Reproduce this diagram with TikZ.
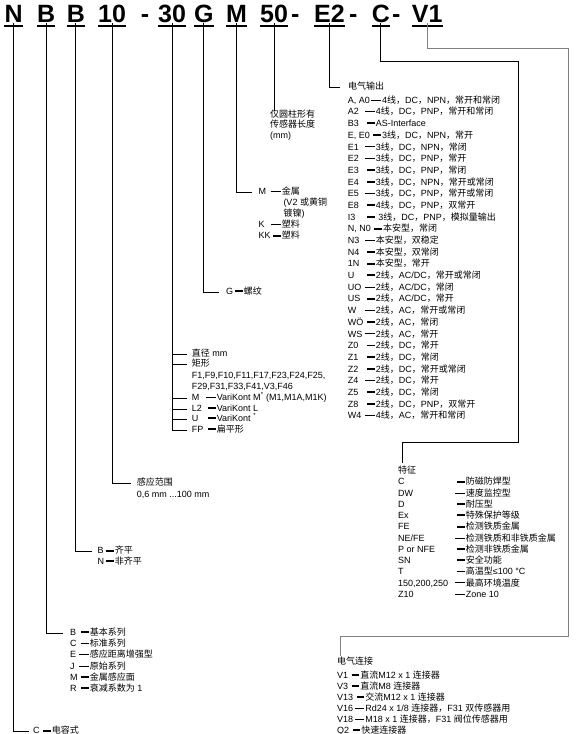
\documentclass[tikz,border=0pt]{standalone}
\usepackage{fontspec}
\setmainfont{Liberation Sans}
\newfontfamily\zhfont{Noto Sans CJK SC}
\newfontfamily\lafont{Liberation Sans}
\usetikzlibrary{calc}
% Chinese characters are set in the CJK font
\XeTeXinterchartokenstate=1
\chardef\zhclass=7
\newcount\zhc
\zhc="3000 \loop\XeTeXcharclass\zhc=\zhclass \advance\zhc by 1 \ifnum\zhc<"3040 \repeat
\zhc="4E00 \loop\XeTeXcharclass\zhc=\zhclass \advance\zhc by 1 \ifnum\zhc<"A000 \repeat
\zhc="FF00 \loop\XeTeXcharclass\zhc=\zhclass \advance\zhc by 1 \ifnum\zhc<"FFF0 \repeat
\XeTeXinterchartoks 0 \zhclass={\zhfont}
\XeTeXinterchartoks 4095 \zhclass={\zhfont}
\XeTeXinterchartoks \zhclass 0={\lafont}
\XeTeXinterchartoks \zhclass 4095={\lafont}
% thin and thick dashes
\newcommand\tn{\rule[2.8pt]{9.5pt}{0.8pt}\hspace{1.2pt}}
\newcommand\tk{\hspace{2pt}\rule[2.3pt]{7.5pt}{1.9pt}\hspace{1.2pt}}

\begin{document}
\begin{tikzpicture}[x=1pt, y=-1pt,
  hd/.style={font=\fontsize{25}{25}\selectfont\bfseries, inner sep=0pt, text depth=0pt, anchor=base west},
  lbl/.style={font=\fontsize{9}{11}\selectfont, inner sep=0pt, text height=6.5pt, text depth=2pt, anchor=west},
  ul/.style={line width=2pt},
  wire/.style={line width=0.9pt},
  gwire/.style={line width=1pt, black!50}]
  \useasboundingbox (0,0) rectangle (580,734);
  \clip (0,0) rectangle (580,734);

  % type code
  \node[hd] (tN) at (4.4,22.7) {N};
  \node[hd] (tB1) at (37,22.7) {B};
  \node[hd] (tB2) at (66.6,22.7) {B};
  \node[hd] (t10) at (98,22.7) {10};
  \node[hd] (d1) at (140.6,22.7) {-};
  \node[hd] (t30) at (158,22.7) {30};
  \node[hd] (tG) at (194,22.7) {G};
  \node[hd] (tM) at (226,22.7) {M};
  \node[hd] (t50) at (260,22.7) {50};
  \node[hd] (d2) at (291,22.7) {-};
  \node[hd] (tE2) at (314,22.7) {E2};
  \node[hd] (d3) at (349,22.7) {-};
  \node[hd] (tC) at (371.7,22.7) {C};
  \node[hd] (d4) at (392,22.7) {-};
  \node[hd] (tV1) at (411.7,22.7) {V1};
  \foreach \n in {tN,tB1,tB2,t10,t30,tG,tM,t50,tE2,tC,tV1}
    \draw[ul] ([yshift=-3.3pt]\n.south west) -- ([yshift=-3.3pt]\n.south east);

  % length
  \node[lbl] (len1) at (270,115) {仅圆柱形有};
  \node[lbl] (len2) at (270,125.7) {传感器长度};
  \node[lbl] (len3) at (270,136.7) {(mm)};
  \draw[wire] (t50.south) -- (t50.south |- len1.north);

  % material
  \node[lbl] (m1) at (258.3,192.7) {M};
  \node[lbl] (m1d) at (271,192.7) {\tn 金属};
  \node[lbl] (m2) at (283.3,203.3) {(V2 或黄铜};
  \node[lbl] (m3) at (283.3,214.3) {镀镍)};
  \node[lbl] (k1) at (258.3,225.7) {K};
  \node[lbl] (k1d) at (271,225.7) {\tn 塑料};
  \node[lbl] (k2) at (258.3,236.7) {KK};
  \node[lbl] (k2d) at (271,236.7) {\tk 塑料};
  \draw[wire] (tM.south) |- ([xshift=-6.6pt]m1.west);

  % thread
  \node[lbl] (g1) at (226,292.3) {G};
  \node[lbl] (g1d) at (233,292.3) {\tk 螺纹};
  \draw[wire] (tG.south) |- ([xshift=-7pt]g1.west);

  % housing
  \node[lbl] (h1) at (191.7,354) {直径 mm};
  \node[lbl] (h2) at (191.7,364.3) {矩形};
  \node[lbl] (h3) at (191.7,376.7) {F1,F9,F10,F11,F17,F23,F24,F25,};
  \node[lbl] (h4) at (191.7,387.3) {F29,F31,F33,F41,V3,F46};
  \node[lbl] (hM) at (191.7,398.3) {M};
  \node[lbl] (hMd) at (206,398.3) {\tn VariKont M\textsuperscript{*} (M1,M1A,M1K)};
  \node[lbl] (hL) at (191.7,409.3) {L2};
  \node[lbl] (hLd) at (206,409.3) {\tk VariKont L};
  \node[lbl] (hU) at (191.7,419.3) {U};
  \node[lbl] (hUd) at (206,419.3) {\tk VariKont \textsuperscript{*}};
  \node[lbl] (hF) at (191.7,430) {FP};
  \node[lbl] (hFd) at (206,430) {\tk 扁平形};
  \draw[wire] (t30.south) |- ([xshift=-4.4pt]hF.west);
  \foreach \n in {h1,h2,hM,hL,hU}
    \draw[wire] (t30.south |- \n.west) -- ([xshift=-4.4pt]\n.west);

  % range
  \node[lbl] (r1) at (136.7,483.3) {感应范围};
  \node[lbl] (r2) at (136.7,495) {0,6 mm ...100 mm};
  \draw[wire] (t10.south) |- ([xshift=-6pt]r1.west);

  % flush
  \foreach \c/\d [count=\i] in {B/\tk 齐平, N/\tk 非齐平}{
    \node[lbl] (p\i) at (97.3,{551.7+10.7*(\i-1)}) {\c};
    \node[lbl] (pd\i) at (104,{551.7+10.7*(\i-1)}) {\d};
  }
  \draw[wire] (tB2.south) |- ([xshift=-5.6pt]p1.west);

  % series
  \foreach \c/\d [count=\i] in {B/\tk 基本系列, C/\tk 标准系列, E/\tn 感应距离增强型,
      J/\tn 原始系列, M/\tk 金属感应面, R/\tk 衰减系数为 1}{
    \node[lbl] (b\i) at (70,{633.3+11.2*(\i-1)}) {\c};
    \node[lbl] (bd\i) at (79,{633.3+11.2*(\i-1)}) {\d};
  }
  \draw[wire] (tB1.south) |- ([xshift=-7.3pt]b1.west);

  % sensor type
  \node[lbl] (c1) at (33,731.7) {C};
  \node[lbl] (cd1) at (41,731.7) {\tk 电容式};
  \draw[wire] (tN.south) |- ([xshift=-4pt]c1.west);

  % electrical output
  \node[lbl] (o0) at (348,87.3) {电气输出};
  \foreach \c/\d [count=\i] in {{A, A0}/\tn 4线，DC，NPN，常开和常闭, A2/\tn 4线，DC，PNP，常开和常闭,
      B3/\tk AS-Interface, {E, E0}/\tk 3线，DC，NPN，常开, E1/\tn 3线，DC，NPN，常闭,
      E2/\tn 3线，DC，PNP，常开, E3/\tk 3线，DC，PNP，常闭, E4/\tk 3线，DC，NPN，常开或常闭,
      E5/\tn 3线，DC，PNP，常开或常闭, E8/\tk 4线，DC，PNP，双常开, I3/\tk\ 3线，DC，PNP，模拟量输出,
      {N, N0}/\tk 本安型，常闭, N3/\tn 本安型，双稳定, N4/\tk 本安型，双常闭, 1N/\tk 本安型，常开,
      U/{\tk 2线，AC/DC，常开或常闭}, UO/{\tn 2线，AC/DC，常闭}, US/{\tk 2线，AC/DC，常开},
      W/\tn 2线，AC，常开或常闭, WÖ/\tk 2线，AC，常闭, WS/\tn 2线，AC，常开,
      Z0/\tk 2线，DC，常开, Z1/\tk 2线，DC，常闭, Z2/\tk 2线，DC，常开或常闭,
      Z4/\tn 2线，DC，常开, Z5/\tk 2线，DC，常闭, Z8/\tk 2线，DC，PNP，双常开,
      W4/\tn 4线，AC，常开和常闭}{
    \node[lbl] (o\i) at (347.7,{101+11.69*(\i-1)}) {\c};
    \path let \p1=(o\i.east), \p2=(365,{101+11.69*(\i-1)}) in
      node[lbl] (od\i) at ({max(\x2,\x1+1pt)},\y2) {\d};
  }
  \draw[wire] (tE2.south) |- ([xshift=-8pt]o0.west);

  % features
  \node[lbl] (ft) at (398,471.7) {特征};
  \foreach \c/\d [count=\i] in {C/\tk 防磁防焊型, DW/\tn 速度监控型, D/\tk 耐压型,
      Ex/\tk 特殊保护等级, FE/\tk 检测铁质金属, {NE/FE}/\tn 检测铁质和非铁质金属,
      P or NFE/\tk 检测非铁质金属, SN/\tk 安全功能, T/\tk 高温型≤100 °C,
      {150,200,250}/\tn 最高环境温度, Z10/\tn Zone 10}{
    \node[lbl] (f\i) at (398,{482.7+11.23*(\i-1)}) {\c};
    \node[lbl] (fd\i) at (455,{482.7+11.23*(\i-1)}) {\d};
  }
  \draw[wire] (tC.south) |- (518.3,61.7) |- (402.7,442.7) -- ([xshift=4.7pt,yshift=4pt]ft.north west);

  % electrical connection
  \node[lbl] (vt) at (337,662.7) {电气连接};
  \foreach \c/\d [count=\i] in {V1/\tk 直流M12 x 1 连接器, V3/\tk 直流M8 连接器,
      V13/\tk 交流M12 x 1 连接器, V16/{\tn Rd24 x 1/8 连接器，F31 双传感器用},
      V18/\tn M18 x 1 连接器，F31 阀位传感器用, Q2/\tk 快速连接器}{
    \node[lbl] (v\i) at (337,{676+11*(\i-1)}) {\c};
    \path let \p1=(v\i.east), \p2=(349,{676+11*(\i-1)}) in
      node[lbl] (vd\i) at ({max(\x2,\x1+1pt)},\y2) {\d};
  }
  \draw[gwire] (tV1.south) |- (568.3,48.3) |- (340.7,636) -- ([xshift=3.7pt,yshift=2pt]vt.north west);
\end{tikzpicture}
\end{document}
